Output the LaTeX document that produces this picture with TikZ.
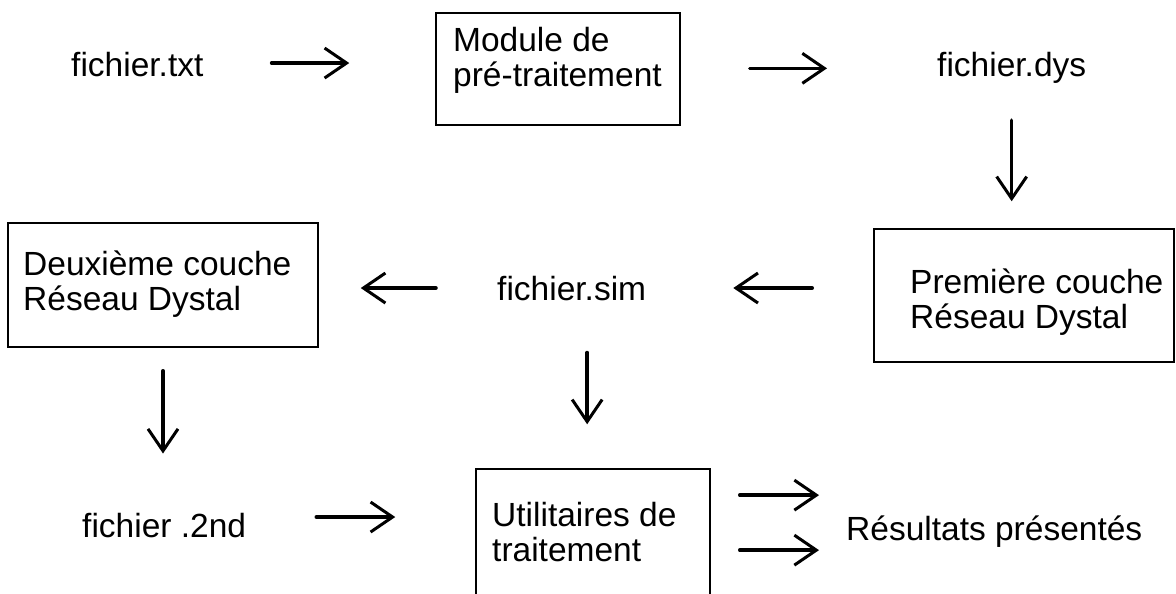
\documentclass[tikz,border=0pt]{standalone}
\usepackage{fontspec}
\setmainfont{Liberation Sans}
\usetikzlibrary{arrows.meta,calc}
\begin{document}
\begin{tikzpicture}[x=1pt,y=-1pt,
  lbl/.style={inner sep=0pt, anchor=base west, font=\fontsize{33.5}{35}\selectfont},
  boxtxt/.style={lbl, align=left, anchor=north west},
  box/.style={draw, line width=1.5pt, inner sep=0pt},
  arr/.style={line width=3.5pt, line cap=round,
    -{Straight Barb[length=22pt,width=30pt,line width=3pt]}},
]
\useasboundingbox (0,0) rectangle (1176,594);
\clip (0,0) rectangle (1176,594);

% plain file names
\node[lbl] (ftxt) at (71,77)   {fichier.txt};
\node[lbl] (fdys) at (937,77)  {fichier.dys};
\node[lbl] (fsim) at (497,300) {fichier.sim};
\node[lbl] (f2nd) at (82,537)  {fichier .2nd};
\node[lbl] (res)  at (846,540) {Résultats présentés};

% processing boxes
\node[box, minimum width=244pt, minimum height=112pt] (pre)  at (558,69)    {};
\node[box, minimum width=300pt, minimum height=133pt] (prem) at (1024,295.5) {};
\node[box, minimum width=310pt, minimum height=124pt] (deux) at (163,285)   {};
\node[box, minimum width=234pt, minimum height=240pt] (util) at (593,589)   {};

\node[boxtxt] (pretxt)  at (453,27)    {Module de\\pré-traitement};
\node[boxtxt] (premtxt) at (910,268.5) {Première couche\\Réseau Dystal};
\node[boxtxt] (deuxtxt) at (23,250.5)  {Deuxième couche\\Réseau Dystal};
\node[boxtxt] (utiltxt) at (492,502.5) {Utilitaires de\\traitement};

% flow
\draw[arr, shorten <=68pt, shorten >=86pt]
  ($(ftxt.east)+(0,-2)$) -- ($(ftxt.east -| pre.west)+(0,-2)$);
\draw[arr, shorten <=69pt, shorten >=110pt] (fdys.west -| pre.east) -- (fdys.west);
\draw[arr, shorten <=36pt, shorten >=27pt] (fdys.south) -- (fdys.south |- prem.north);
\draw[arr, shorten <=61pt, shorten >=87pt] (fsim.east -| prem.west) -- (fsim.east);
\draw[arr, shorten <=61pt, shorten >=42pt] (fsim.west) -- (fsim.west -| deux.east);
\draw[arr, shorten <=23pt, shorten >=59pt] (deux.south) -- (deux.south |- f2nd.north);
\coordinate (simdown) at ($(fsim.south)+(15.5,0)$);
\draw[arr, shorten <=52pt, shorten >=44pt] (simdown) -- (simdown |- util.north);
\draw[arr, shorten <=70pt, shorten >=80pt]
  ($(f2nd.east)+(0,-8)$) -- ($(f2nd.east -| util.west)+(0,-8)$);
\draw[arr, shorten <=29pt, shorten >=27pt]
  ($(res.west -| util.east)+(0,-36)$) -- ($(res.west)+(0,-36)$);
\draw[arr, shorten <=29pt, shorten >=27pt]
  ($(res.west -| util.east)+(0,19)$) -- ($(res.west)+(0,19)$);
\end{tikzpicture}
\end{document}
